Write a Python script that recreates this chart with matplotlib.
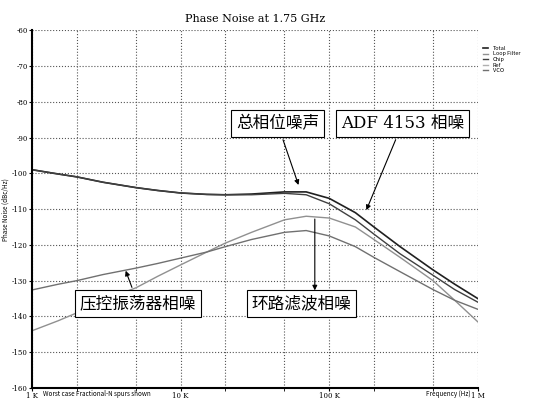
import matplotlib.pyplot as plt
from matplotlib.ticker import FixedLocator, NullFormatter

plt.rcParams['font.family'] = ['Noto Sans CJK SC', 'DejaVu Sans']

freq = [1e3, 1.5e3, 2e3, 3e3, 5e3, 7e3, 1e4, 1.5e4, 2e4, 3e4, 5e4, 7e4, 1e5,
        1.5e5, 2e5, 3e5, 5e5, 7e5, 1e6]
total = [-99, -100.2, -101, -102.5, -104, -104.8, -105.5, -105.9, -106, -105.8,
         -105.2, -105.2, -107, -111, -115, -120.5, -127, -131, -135]
chip = [-99, -100.2, -101, -102.5, -104, -104.8, -105.5, -105.9, -106, -106,
        -105.6, -106, -108.5, -113, -117, -122.5, -128.5, -132.5, -136]
loop_filter = [-144, -141.2, -139, -135.5, -132, -128.8, -125.6, -122, -119.5,
               -116.5, -113, -112, -112.5, -115, -118.5, -123.5, -130, -135.5, -141.5]
vco = [-132.6, -131, -130, -128.3, -126.5, -125.2, -123.7, -122, -120.5,
       -118.5, -116.5, -116, -117.5, -120.5, -123.5, -127.5, -132.5, -135.5, -138]

fig = plt.figure(figsize=(5.35, 4.19), dpi=100)
ax = fig.add_axes([0.06, 0.074, 0.833, 0.854])
ax.semilogx(freq, total, color="#202020", lw=1.2, label="Total")
ax.semilogx(freq, loop_filter, color="#909090", lw=1.0, label="Loop Filter")
ax.semilogx(freq, chip, color="#404040", lw=1.0, label="Chip")
ax.semilogx([], [], color="#b0b0b0", lw=1.0, label="Ref")
ax.semilogx(freq, vco, color="#707070", lw=1.0, label="VCO")

ax.set_xlim(1e3, 1e6)
ax.set_ylim(-160, -60)
ax.set_yticks(range(-160, -59, 10))
ax.set_yticklabels([str(v) for v in range(-160, -59, 10)], fontsize=5, family="DejaVu Serif")
ax.xaxis.set_major_locator(FixedLocator([1e3, 1e4, 1e5, 1e6]))
ax.xaxis.set_minor_locator(FixedLocator([2e3, 5e3, 2e4, 5e4, 2e5, 5e5]))
ax.xaxis.set_minor_formatter(NullFormatter())
ax.set_xticklabels(["1 K", "10 K", "100 K", "1 M"], fontsize=5, family="DejaVu Serif")
ax.grid(True, which="both", ls=":", color="#555555", lw=0.8)
ax.tick_params(length=2, pad=1)
for s in ["top", "right"]:
    ax.spines[s].set_visible(False)
ax.spines["left"].set_linewidth(1.5)
ax.spines["bottom"].set_linewidth(1.5)

ax.set_title("Phase Noise at 1.75 GHz", fontsize=8, family="DejaVu Serif", pad=6)
ax.set_ylabel("Phase Noise (dBc/Hz)", fontsize=4.5, labelpad=2)
fig.text(0.88, 0.055, "Frequency (Hz)", fontsize=4.5, ha="right")
fig.text(0.08, 0.055, "Worst case Fractional-N spurs shown", fontsize=4.5)
ax.legend(loc="upper left", bbox_to_anchor=(1.0, 0.97), fontsize=4, frameon=False,
          handlelength=1, labelspacing=0.1)

box = dict(boxstyle="square,pad=0.3", fc="white", ec="black", lw=0.8)
arrow = dict(arrowstyle="-|>", color="black", lw=0.8, mutation_scale=7)
ax.annotate("总相位噪声", xy=(6.3e4, -104), xytext=(2.35e4, -86), fontsize=12,
            bbox=box, arrowprops=arrow, ha="left", va="center")
ax.annotate("ADF 4153 相噪", xy=(1.75e5, -111), xytext=(1.2e5, -86), fontsize=12,
            family=["DejaVu Serif", "Noto Sans CJK SC"], bbox=box, arrowprops=arrow,
            ha="left", va="center")
ax.annotate("压控振荡器相噪", xy=(4.2e3, -126.5), xytext=(2.1e3, -136.5), fontsize=12,
            bbox=box, arrowprops=arrow, ha="left", va="center")
ax.annotate("环路滤波相噪", xy=(8e4, -134), xytext=(3.0e4, -136.5), fontsize=12,
            bbox=box, ha="left", va="center")
ax.annotate("", xy=(8e4, -133.5), xytext=(8e4, -112), arrowprops=arrow)

fig.savefig("out.png")
